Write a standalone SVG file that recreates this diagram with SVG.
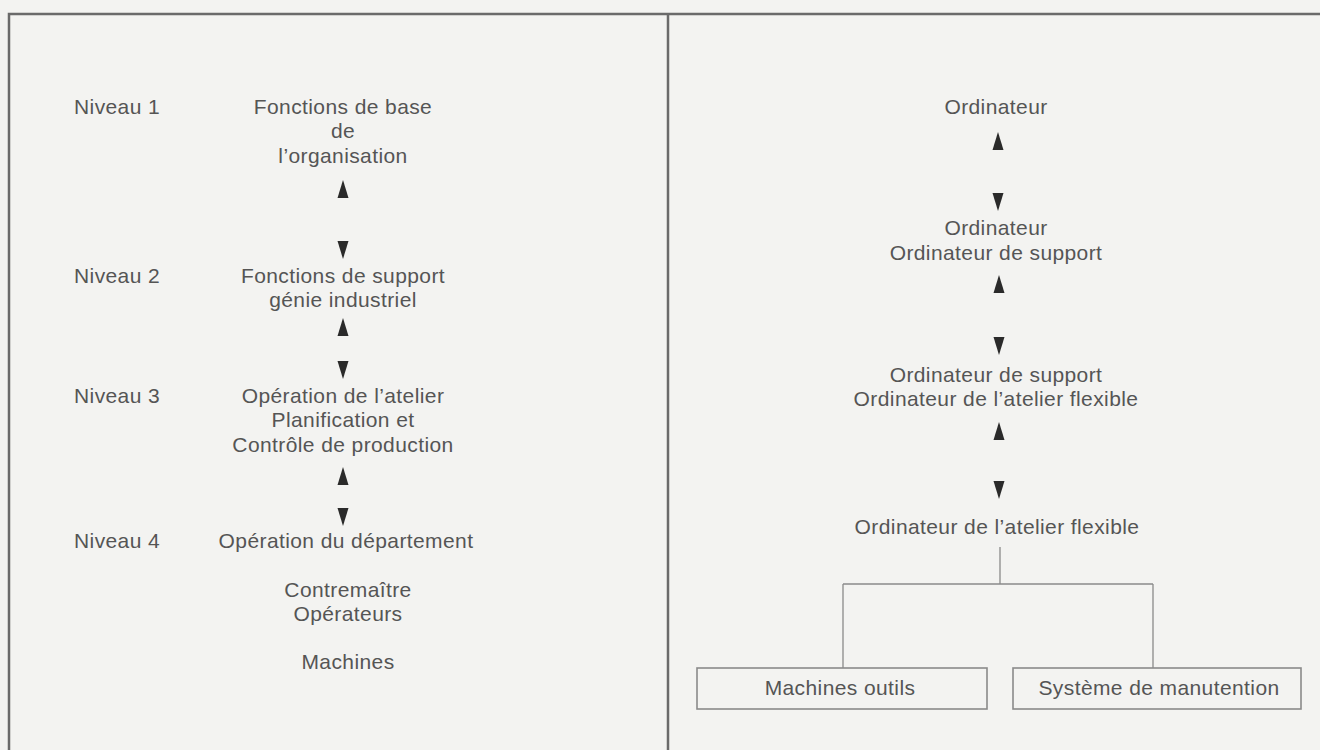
<svg xmlns="http://www.w3.org/2000/svg" xmlns:xlink="http://www.w3.org/1999/xlink" width="1320" height="750" viewBox="0 0 1320 750">
<style>
  .bg { fill: #f3f3f1; }
  .frame { fill: none; stroke: #6a6a6a; stroke-width: 2.5; }
  .t { font-family: "Liberation Sans", Arial, sans-serif; font-size: 21px; letter-spacing: 0.4px; fill: #555555; }
  .c { text-anchor: middle; }
  .line { fill: none; stroke: #8a8a8a; stroke-width: 1.3; }
  .box { fill: none; stroke: #8a8a8a; stroke-width: 1.6; }
  .arr { fill: #2a2a2a; }
</style>
<defs>
  <path id="up" d="M0,-9 L5.5,9 L-5.5,9 Z"/>
  <path id="down" d="M-5.5,-9 L5.5,-9 L0,9 Z"/>
</defs>
<rect class="bg" x="0" y="0" width="1320" height="750"/>
<g id="frame">
  <path class="frame" d="M9,760 L9,14 L1320,14"/>
  <path class="frame" d="M668,14 L668,760"/>
</g>

<g id="left-labels">
  <text class="t" x="74" y="114">Niveau 1</text>
  <text class="t" x="74" y="283">Niveau 2</text>
  <text class="t" x="74" y="403">Niveau 3</text>
  <text class="t" x="74" y="548">Niveau 4</text>
</g>
<g id="n-l1">
  <text class="t c" x="343" y="114">Fonctions de base</text>
  <text class="t c" x="343" y="138">de</text>
  <text class="t c" x="343" y="163">l’organisation</text>
</g>
<g id="n-l2">
  <text class="t c" x="343" y="283">Fonctions de support</text>
  <text class="t c" x="343" y="307">génie industriel</text>
</g>
<g id="n-l3">
  <text class="t c" x="343" y="403">Opération de l’atelier</text>
  <text class="t c" x="343" y="427">Planification et</text>
  <text class="t c" x="343" y="452">Contrôle de production</text>
</g>
<g id="n-l4">
  <text class="t c" x="346" y="548">Opération du département</text>
</g>
<g id="n-l4b">
  <text class="t c" x="348" y="597">Contremaître</text>
  <text class="t c" x="348" y="621">Opérateurs</text>
</g>
<g id="n-l4c">
  <text class="t c" x="348" y="669">Machines</text>
</g>

<g id="n-r1">
  <text class="t c" x="996" y="114">Ordinateur</text>
</g>
<g id="n-r2">
  <text class="t c" x="996" y="235">Ordinateur</text>
  <text class="t c" x="996" y="260">Ordinateur de support</text>
</g>
<g id="n-r3">
  <text class="t c" x="996" y="382">Ordinateur de support</text>
  <text class="t c" x="996" y="406">Ordinateur de l’atelier flexible</text>
</g>
<g id="n-r4">
  <text class="t c" x="997" y="534">Ordinateur de l’atelier flexible</text>
</g>
<g id="n-machines">
  <rect class="box" x="697" y="668" width="290" height="41"/>
  <text class="t c" x="840" y="695">Machines outils</text>
</g>
<g id="n-systeme">
  <rect class="box" x="1013" y="668" width="288" height="41"/>
  <text class="t c" x="1159" y="695">Système de manutention</text>
</g>

<g id="connectors">
  <use xlink:href="#up" class="arr" x="343" y="189"/>
  <use xlink:href="#down" class="arr" x="343" y="250"/>
  <use xlink:href="#up" class="arr" x="343" y="327"/>
  <use xlink:href="#down" class="arr" x="343" y="370"/>
  <use xlink:href="#up" class="arr" x="343" y="476"/>
  <use xlink:href="#down" class="arr" x="343" y="517"/>

  <use xlink:href="#up" class="arr" x="998" y="141"/>
  <use xlink:href="#down" class="arr" x="998" y="202"/>
  <use xlink:href="#up" class="arr" x="999" y="284"/>
  <use xlink:href="#down" class="arr" x="999" y="346"/>
  <use xlink:href="#up" class="arr" x="999" y="431"/>
  <use xlink:href="#down" class="arr" x="999" y="490"/>

  <path class="line" d="M1000,547 L1000,584 M843,584 L1153,584 M843,584 L843,668 M1153,584 L1153,668"/>
</g>
</svg>
